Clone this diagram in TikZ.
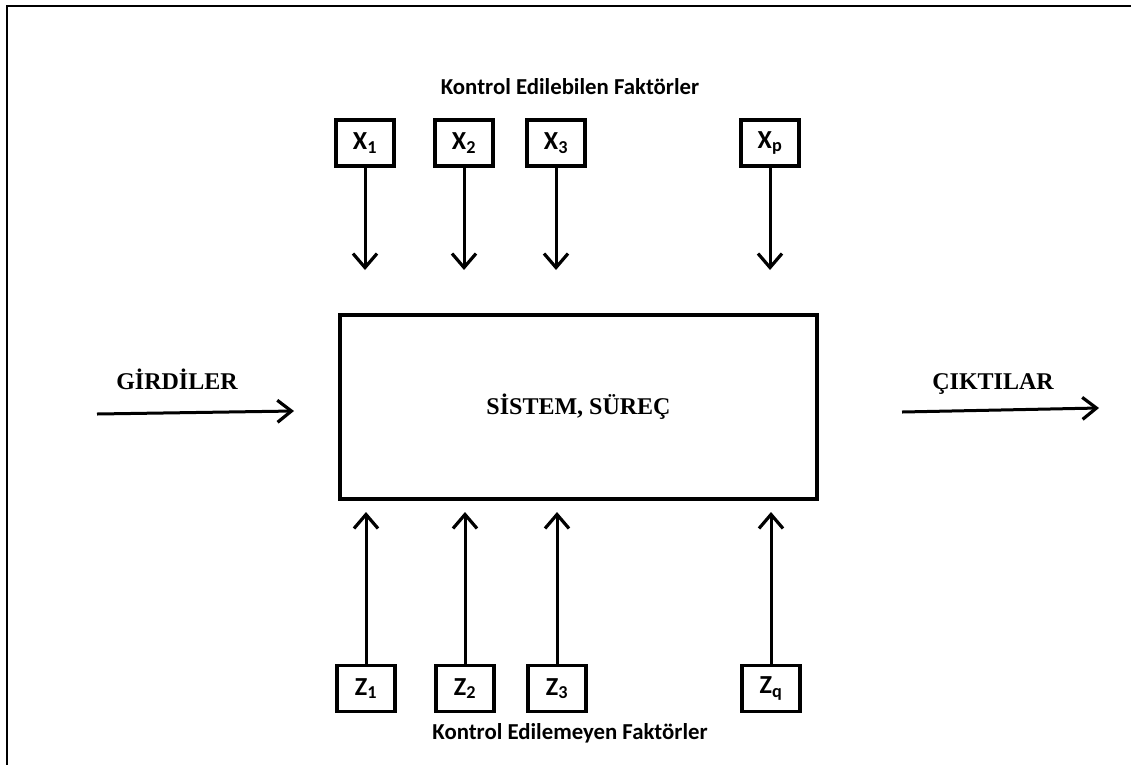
\documentclass[tikz,border=0pt]{standalone}
\usepackage{fontspec}
\setmainfont{Liberation Serif}
\newfontfamily\carlito{Carlito}
\usetikzlibrary{arrows.meta,calc}
\begin{document}
\begin{tikzpicture}[x=1pt,y=-1pt,
  factor/.style={draw,line width=3.6pt,minimum width=58pt,minimum height=46pt,
    inner sep=0pt,font=\carlito\bfseries\fontsize{26}{28}\selectfont},
  sysbox/.style={draw,line width=4pt,minimum width=477pt,minimum height=184pt,
    font=\bfseries\fontsize{24}{28}\selectfont},
  heading/.style={font=\carlito\bfseries\fontsize{22.8}{26}\selectfont},
  flowlabel/.style={anchor=base,font=\bfseries\fontsize{24}{28}\selectfont},
  varr/.style={line width=3pt,-{Straight Barb[length=14pt,width=24pt,line width=3.2pt]}},
  harr/.style={line width=3pt,-{Straight Barb[length=14pt,width=22pt,line width=3.2pt]}}]
\useasboundingbox (0,0) rectangle (1131,764);
\clip (0,0) rectangle (1131,764);
% outer frame
\draw[line width=2.4pt] (7,6) rectangle (1145,780);

% central system
\node[sysbox] (sys) at (578.5,407) {SİSTEM, SÜREÇ};

% controllable factors
\node[heading] (ctitle) at (570,87) {Kontrol Edilebilen Faktörler};
\node[factor] (x1) at (365,143) {X\textsubscript{1}};
\node[factor] (x2) at (464,143) {X\textsubscript{2}};
\node[factor] (x3) at (556,143) {X\textsubscript{3}};
\node[factor] (xp) at (770,143) {X\textsubscript{p}};
\foreach \n in {x1,x2,x3,xp}
  \draw[varr] (\n.south) -- (\n.south |- 0,270) coordinate (\n e);

% uncontrollable factors
\node[factor] (z1) at (366,688.5) {Z\textsubscript{1}};
\node[factor] (z2) at (465,688.5) {Z\textsubscript{2}};
\node[factor] (z3) at (557,688.5) {Z\textsubscript{3}};
\node[factor] (zq) at (771,688.5) {Z\textsubscript{q}};
\node[heading] (utitle) at (570,733) {Kontrol Edilemeyen Faktörler};
\foreach \n in {z1,z2,z3,zq}
  \draw[varr] (\n.north) -- (\n.north |- 0,512) coordinate (\n e);

% inputs and outputs
\node[flowlabel] (in) at (177,389) {GİRDİLER};
\coordinate (ins) at (97,414);
\coordinate (ine) at (294,411);
\draw[harr] (ins) -- (ine);
\node[flowlabel] (out) at (993,389) {ÇIKTILAR};
\coordinate (outs) at (902,412);
\coordinate (oute) at (1099,408);
\draw[harr] (outs) -- (oute);
\end{tikzpicture}
\end{document}
